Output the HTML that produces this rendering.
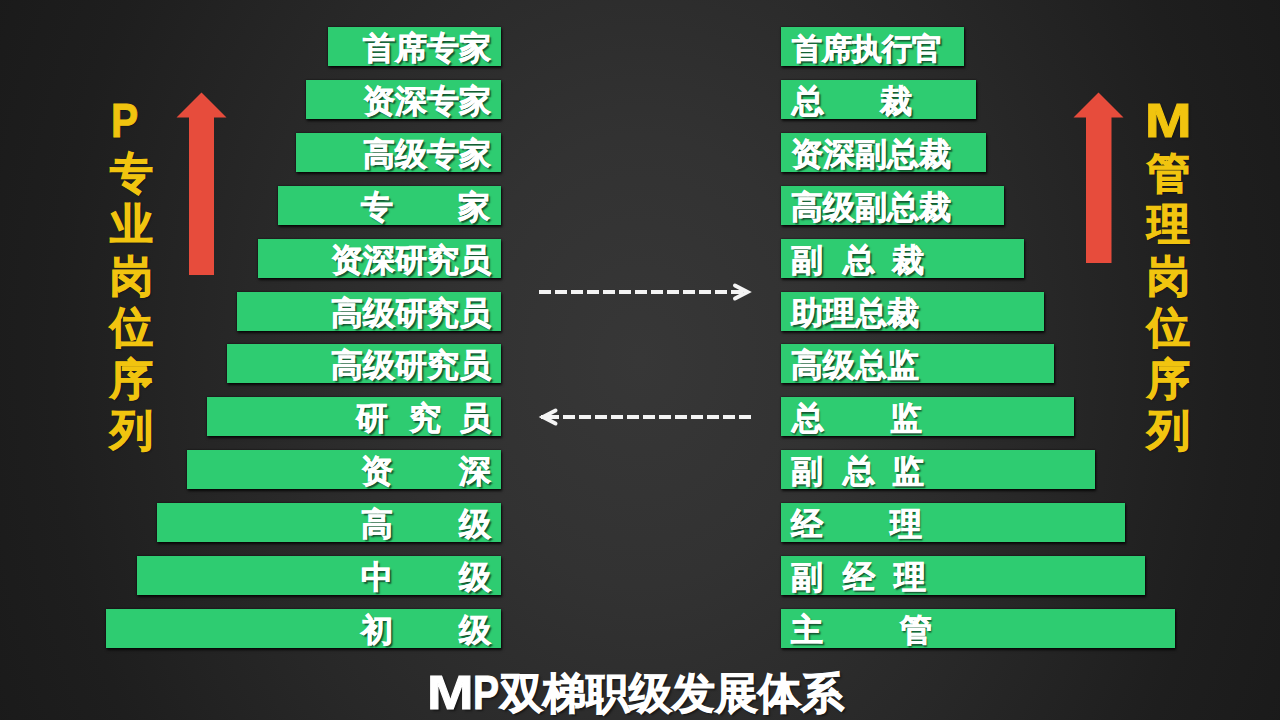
<!DOCTYPE html>
<html><head><meta charset="utf-8"><style>
html,body{margin:0;padding:0;}
body{width:1280px;height:720px;overflow:hidden;position:relative;
 background:#1a1a1a radial-gradient(ellipse 56% 125% at 50% 50%, #373737 0%, #323232 25%, #282828 55%, #1e1e1e 82%, #1a1a1a 100%) no-repeat;
 font-family:"Liberation Sans",sans-serif;font-weight:bold;}
.bar{position:absolute;height:39px;background:#2ecc71;box-shadow:1px 1.5px 2.5px rgba(0,0,0,0.8),0 0 1.5px rgba(0,0,0,0.7);}
.c{position:absolute;color:#fff;-webkit-text-stroke:0.7px #fff;font-size:32px;line-height:32px;white-space:pre;text-shadow:1.5px 1.5px 1.5px rgba(0,0,0,0.6);}
.y{position:absolute;color:#f1c40f;-webkit-text-stroke:1px #f1c40f;font-size:42px;line-height:42px;white-space:pre;text-shadow:1px 1px 2px rgba(0,0,0,0.5);}
.ttl{position:absolute;color:#fff;-webkit-text-stroke:1px #fff;font-size:42px;line-height:42px;white-space:pre;text-shadow:2px 2px 2px rgba(0,0,0,0.5);}
</style></head><body>

<div class="bar" style="left:328px;top:27px;width:173px"></div>
<div class="bar" style="left:781px;top:27px;width:183px"></div>
<div class="bar" style="left:306px;top:80px;width:195px"></div>
<div class="bar" style="left:781px;top:80px;width:195px"></div>
<div class="bar" style="left:296px;top:133px;width:205px"></div>
<div class="bar" style="left:781px;top:133px;width:205px"></div>
<div class="bar" style="left:278px;top:186px;width:223px"></div>
<div class="bar" style="left:781px;top:186px;width:223px"></div>
<div class="bar" style="left:258px;top:239px;width:243px"></div>
<div class="bar" style="left:781px;top:239px;width:243px"></div>
<div class="bar" style="left:237px;top:292px;width:264px"></div>
<div class="bar" style="left:781px;top:292px;width:263px"></div>
<div class="bar" style="left:227px;top:344px;width:274px"></div>
<div class="bar" style="left:781px;top:344px;width:273px"></div>
<div class="bar" style="left:207px;top:397px;width:294px"></div>
<div class="bar" style="left:781px;top:397px;width:293px"></div>
<div class="bar" style="left:187px;top:450px;width:314px"></div>
<div class="bar" style="left:781px;top:450px;width:314px"></div>
<div class="bar" style="left:157px;top:503px;width:344px"></div>
<div class="bar" style="left:781px;top:503px;width:344px"></div>
<div class="bar" style="left:137px;top:556px;width:364px"></div>
<div class="bar" style="left:781px;top:556px;width:364px"></div>
<div class="bar" style="left:106px;top:609px;width:395px"></div>
<div class="bar" style="left:781px;top:609px;width:394px"></div>
<span class="c" style="left:363.0px;top:32px">首</span>
<span class="c" style="left:395.0px;top:32px">席</span>
<span class="c" style="left:427.0px;top:32px">专</span>
<span class="c" style="left:459.0px;top:32px">家</span>
<span class="c" style="font-size:30.4px;line-height:30.4px;left:792.0px;top:33px">首</span>
<span class="c" style="font-size:30.4px;line-height:30.4px;left:822.0px;top:33px">席</span>
<span class="c" style="font-size:30.4px;line-height:30.4px;left:852.0px;top:33px">执</span>
<span class="c" style="font-size:30.4px;line-height:30.4px;left:882.0px;top:33px">行</span>
<span class="c" style="font-size:30.4px;line-height:30.4px;left:912.0px;top:33px">官</span>
<span class="c" style="left:363.0px;top:85px">资</span>
<span class="c" style="left:395.0px;top:85px">深</span>
<span class="c" style="left:427.0px;top:85px">专</span>
<span class="c" style="left:459.0px;top:85px">家</span>
<span class="c" style="left:792.0px;top:85px">总</span>
<span class="c" style="left:880.0px;top:85px">裁</span>
<span class="c" style="left:363.0px;top:138px">高</span>
<span class="c" style="left:395.0px;top:138px">级</span>
<span class="c" style="left:427.0px;top:138px">专</span>
<span class="c" style="left:459.0px;top:138px">家</span>
<span class="c" style="left:791.0px;top:138px">资</span>
<span class="c" style="left:823.0px;top:138px">深</span>
<span class="c" style="left:855.0px;top:138px">副</span>
<span class="c" style="left:887.0px;top:138px">总</span>
<span class="c" style="left:919.0px;top:138px">裁</span>
<span class="c" style="left:361.0px;top:191px">专</span>
<span class="c" style="left:458.0px;top:191px">家</span>
<span class="c" style="left:791.0px;top:191px">高</span>
<span class="c" style="left:823.0px;top:191px">级</span>
<span class="c" style="left:855.0px;top:191px">副</span>
<span class="c" style="left:887.0px;top:191px">总</span>
<span class="c" style="left:919.0px;top:191px">裁</span>
<span class="c" style="left:331.0px;top:244px">资</span>
<span class="c" style="left:363.0px;top:244px">深</span>
<span class="c" style="left:395.0px;top:244px">研</span>
<span class="c" style="left:427.0px;top:244px">究</span>
<span class="c" style="left:459.0px;top:244px">员</span>
<span class="c" style="left:791.0px;top:244px">副</span>
<span class="c" style="left:843.0px;top:244px">总</span>
<span class="c" style="left:892.0px;top:244px">裁</span>
<span class="c" style="left:331.0px;top:297px">高</span>
<span class="c" style="left:363.0px;top:297px">级</span>
<span class="c" style="left:395.0px;top:297px">研</span>
<span class="c" style="left:427.0px;top:297px">究</span>
<span class="c" style="left:459.0px;top:297px">员</span>
<span class="c" style="left:791.0px;top:297px">助</span>
<span class="c" style="left:823.0px;top:297px">理</span>
<span class="c" style="left:855.0px;top:297px">总</span>
<span class="c" style="left:887.0px;top:297px">裁</span>
<span class="c" style="left:331.0px;top:349px">高</span>
<span class="c" style="left:363.0px;top:349px">级</span>
<span class="c" style="left:395.0px;top:349px">研</span>
<span class="c" style="left:427.0px;top:349px">究</span>
<span class="c" style="left:459.0px;top:349px">员</span>
<span class="c" style="left:791.0px;top:349px">高</span>
<span class="c" style="left:823.0px;top:349px">级</span>
<span class="c" style="left:855.0px;top:349px">总</span>
<span class="c" style="left:887.0px;top:349px">监</span>
<span class="c" style="left:356.0px;top:402px">研</span>
<span class="c" style="left:408.5px;top:402px">究</span>
<span class="c" style="left:459.0px;top:402px">员</span>
<span class="c" style="left:791.5px;top:402px">总</span>
<span class="c" style="left:889.5px;top:402px">监</span>
<span class="c" style="left:361.0px;top:455px">资</span>
<span class="c" style="left:459.0px;top:455px">深</span>
<span class="c" style="left:791.0px;top:455px">副</span>
<span class="c" style="left:842.7px;top:455px">总</span>
<span class="c" style="left:892.0px;top:455px">监</span>
<span class="c" style="left:361.0px;top:508px">高</span>
<span class="c" style="left:459.0px;top:508px">级</span>
<span class="c" style="left:791.0px;top:508px">经</span>
<span class="c" style="left:889.5px;top:508px">理</span>
<span class="c" style="left:361.0px;top:561px">中</span>
<span class="c" style="left:459.0px;top:561px">级</span>
<span class="c" style="left:791.0px;top:561px">副</span>
<span class="c" style="left:842.7px;top:561px">经</span>
<span class="c" style="left:894.0px;top:561px">理</span>
<span class="c" style="left:361.0px;top:614px">初</span>
<span class="c" style="left:459.0px;top:614px">级</span>
<span class="c" style="left:791.0px;top:614px">主</span>
<span class="c" style="left:899.6px;top:614px">管</span>
<svg style="position:absolute;left:0;top:0" width="1280" height="720">
<polygon points="201.5,92.5 226.5,117.5 214,117.5 214,275 189,275 189,117.5 176.5,117.5" fill="#e74c3c"/>
<polygon points="1098.5,92.5 1123.5,117.5 1111.5,117.5 1111.5,263 1086,263 1086,117.5 1073.5,117.5" fill="#e74c3c"/>
<g stroke="#f4f4f4" stroke-width="4" fill="none">
<line x1="539" y1="292" x2="748" y2="292" stroke-dasharray="12 4"/>
<polyline points="735,285.5 747.5,292 735,298.5" stroke-linecap="round" stroke-linejoin="miter" stroke-miterlimit="6"/>
<line x1="751" y1="417" x2="541" y2="417" stroke-dasharray="12 4"/>
<polyline points="555.5,410.5 543,417 555.5,423.5" stroke-linecap="round" stroke-linejoin="miter" stroke-miterlimit="6"/>
</g>
</svg>
<span class="y" style="left:109.7px;top:151.5px;font-size:42.67px;line-height:42.67px">专</span>
<span class="y" style="left:109.7px;top:203.0px;font-size:42.67px;line-height:42.67px">业</span>
<span class="y" style="left:109.7px;top:254.5px;font-size:42.67px;line-height:42.67px">岗</span>
<span class="y" style="left:109.7px;top:306.0px;font-size:42.67px;line-height:42.67px">位</span>
<span class="y" style="left:109.7px;top:357.5px;font-size:42.67px;line-height:42.67px">序</span>
<span class="y" style="left:109.7px;top:409.0px;font-size:42.67px;line-height:42.67px">列</span>
<span class="y" style="left:1146.7px;top:151.5px;font-size:42.67px;line-height:42.67px">管</span>
<span class="y" style="left:1146.7px;top:203.0px;font-size:42.67px;line-height:42.67px">理</span>
<span class="y" style="left:1146.7px;top:254.5px;font-size:42.67px;line-height:42.67px">岗</span>
<span class="y" style="left:1146.7px;top:306.0px;font-size:42.67px;line-height:42.67px">位</span>
<span class="y" style="left:1146.7px;top:357.5px;font-size:42.67px;line-height:42.67px">序</span>
<span class="y" style="left:1146.7px;top:409.0px;font-size:42.67px;line-height:42.67px">列</span>
<span class="y" style="left:110.9px;top:97.1px;font-size:47.8px;line-height:47.8px;transform:scaleX(0.853);transform-origin:0 0">P</span>
<span class="y" style="left:1145.2px;top:97.1px;font-size:47.8px;line-height:47.8px;transform:scaleX(1.170);transform-origin:0 0">M</span>
<span class="ttl" style="left:427.0px;top:668.6px;font-size:47.8px;line-height:47.8px;transform:scaleX(1.170);transform-origin:0 0">M</span>
<span class="ttl" style="left:473.0px;top:668.6px;font-size:47.8px;line-height:47.8px;transform:scaleX(0.817);transform-origin:0 0">P</span>
<span class="ttl" style="left:499.8px;top:672px;font-size:42.67px;line-height:42.67px">双</span>
<span class="ttl" style="left:542.8px;top:672px;font-size:42.67px;line-height:42.67px">梯</span>
<span class="ttl" style="left:585.8px;top:672px;font-size:42.67px;line-height:42.67px">职</span>
<span class="ttl" style="left:628.8px;top:672px;font-size:42.67px;line-height:42.67px">级</span>
<span class="ttl" style="left:671.8px;top:672px;font-size:42.67px;line-height:42.67px">发</span>
<span class="ttl" style="left:714.8px;top:672px;font-size:42.67px;line-height:42.67px">展</span>
<span class="ttl" style="left:757.8px;top:672px;font-size:42.67px;line-height:42.67px">体</span>
<span class="ttl" style="left:800.8px;top:672px;font-size:42.67px;line-height:42.67px">系</span>
</body></html>
